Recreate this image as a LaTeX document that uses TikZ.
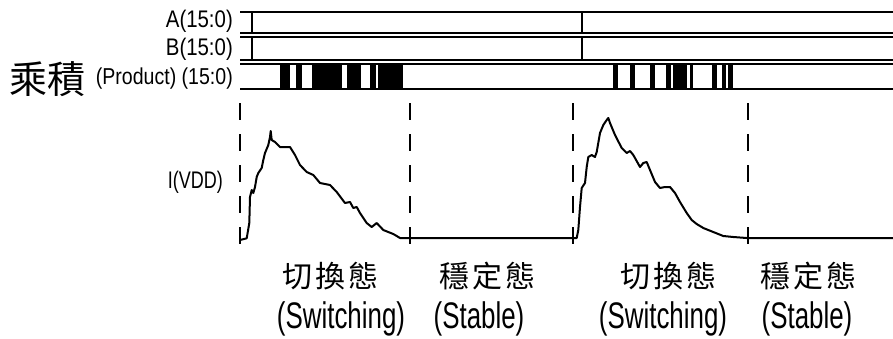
\documentclass[tikz,border=0pt]{standalone}
\usepackage{fontspec}
\setmainfont{Liberation Sans}
\newfontfamily\lab[FakeStretch=0.85]{Liberation Sans}
\newfontfamily\labn[FakeStretch=0.75]{Liberation Sans}
\newfontfamily\labb[FakeStretch=0.7]{Liberation Sans}
\newfontfamily\cjk{Noto Sans CJK TC}
\begin{document}
\begin{tikzpicture}[x=1pt,y=-1pt,
  sig/.style={line width=2pt},
  bar/.style={line width=2pt},
  burst/.style={fill=black,draw=none},
  guide/.style={line width=2.4pt,dash pattern=on 17pt off 14pt},
  wave/.style={line width=2pt,line join=round},
  toplab/.style={anchor=east,inner sep=0pt,font=\lab\fontsize{24}{24}\selectfont},
  prodlab/.style={anchor=east,inner sep=0pt,font=\lab\fontsize{23}{23}\selectfont},
  vddlab/.style={anchor=east,inner sep=0pt,font=\labn\fontsize{24}{24}\selectfont},
  bigcjk/.style={anchor=west,inner sep=0pt,font=\cjk\fontsize{38}{38}\selectfont},
  statecjk/.style={inner sep=0pt,font=\cjk\fontsize{30}{30}\selectfont},
  stateen/.style={inner sep=0pt,font=\labb\fontsize{37}{37}\selectfont}]
\useasboundingbox (0,0) rectangle (893,338);
\fill[white] (0,0) rectangle (893,338);
% bus rows
\coordinate (a1) at (240,12); \coordinate (a2) at (893,12);
\coordinate (a3) at (240,33); \coordinate (a4) at (893,33);
\draw[sig] (a1) -- (a2); \draw[sig] (a3) -- (a4);
\coordinate (b1) at (240,37); \coordinate (b2) at (893,37);
\coordinate (b3) at (240,60); \coordinate (b4) at (893,60);
\draw[sig] (b1) -- (b2); \draw[sig] (b3) -- (b4);
\coordinate (p1) at (240,64); \coordinate (p2) at (893,64);
\coordinate (p3) at (240,89); \coordinate (p4) at (893,89);
\draw[sig] (p1) -- (p2); \draw[sig] (p3) -- (p4);
% transitions
\draw[bar] (252,12) -- (252,33);
\draw[bar] (582,12) -- (582,33);
\draw[bar] (252,37) -- (252,60);
\draw[bar] (582,37) -- (582,60);
% product bursts
\foreach \l/\r in {280/290,296/302,312/342,347/361,370/376,378/403}
  \fill[burst] (\l,64) rectangle (\r,89);
\foreach \l/\r in {613/618,630/635,650/655,666/671,673/687,690/693,712/717,722/726,728/733}
  \fill[burst] (\l,64) rectangle (\r,89);
% dashed guides
\foreach \x in {240,410,573,748}
  \draw[guide] (\x,103) -- (\x,252);
% current waveform
\draw[wave] plot coordinates {(240,240) (246.7,238.3) (249.3,223) (250,197) (251.7,190) (253.3,193) (255,187) (256.7,177) (258.3,173) (261.7,168) (263.3,160) (265,153) (268.3,145) (270,137) (270.7,131) (271.7,140) (275,142) (280,147) (290,147) (295,155) (300,165) (306.7,172) (313.3,175) (320,183) (325,184) (330,185) (336.7,192) (345,203) (350,202) (353.3,208) (356.7,207) (360,213) (366.7,223) (371.7,227) (376.7,223) (383.3,230) (393.3,234) (400,238) (576.7,238) (578.3,230) (580,207) (581.7,188) (585,183) (586.7,167) (588.3,157) (591.7,155) (595,157) (596.7,152) (600,133) (603.3,125) (606.7,120) (608.3,118) (610,123) (615,135) (621.7,148) (626.7,153) (630,151) (633.3,155) (640,167) (643.3,163) (646.7,162) (650,170) (655,182) (660,188) (665,187) (670,187) (675,193) (680,202) (686.7,213) (691.7,220) (696.7,224) (703.3,228) (713.3,232) (723.3,236) (733.3,237) (746.7,238) (893,238)};
% labels
\node[toplab] (la) at (233,21) {A(15:0)};
\node[toplab] (lb) at (233,49) {B(15:0)};
\node[bigcjk] (lpc) at (9,79) {乘積};
\node[prodlab] (lp) at (233,79) {(Product) (15:0)};
\node[vddlab] (lv) at (223,182) {I(VDD)};
\node[statecjk] (sw1c) at (330,276) {切\kern3pt 換\kern3pt 態};
\node[stateen] (sw1e) at (341,319) {(Switching)};
\node[statecjk] (st1c) at (487,276) {穩\kern3pt 定\kern3pt 態};
\node[stateen] (st1e) at (479,319) {(Stable)};
\node[statecjk] (sw2c) at (668,276) {切\kern3pt 換\kern3pt 態};
\node[stateen] (sw2e) at (663,319) {(Switching)};
\node[statecjk] (st2c) at (808,276) {穩\kern3pt 定\kern3pt 態};
\node[stateen] (st2e) at (807,319) {(Stable)};
\end{tikzpicture}
\end{document}
